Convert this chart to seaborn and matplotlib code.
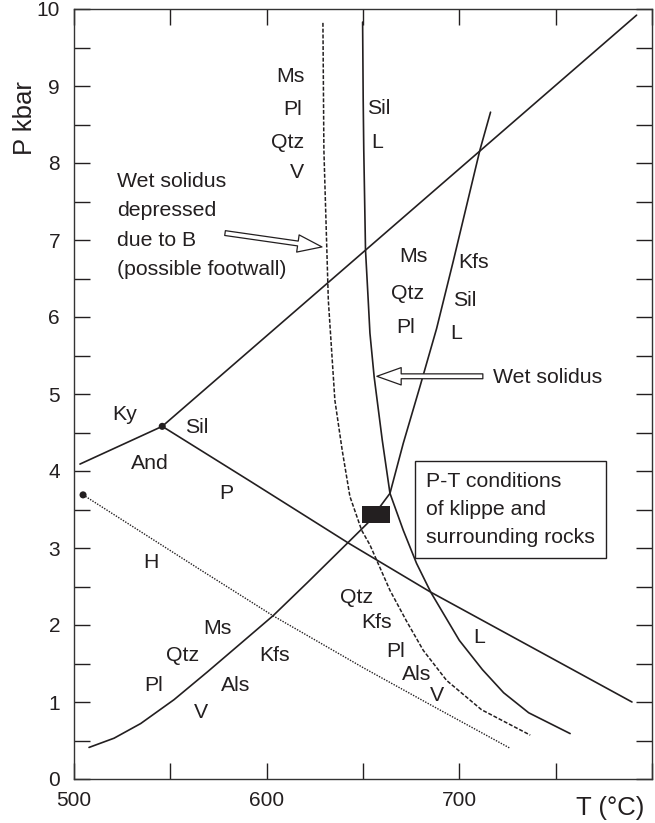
import matplotlib
matplotlib.use("Agg")
import matplotlib.pyplot as plt
import seaborn as sns
import pandas as pd

# ---------------- data (T in °C, P in kbar) ----------------
ky_sil_T = [545.8, 792.0]
ky_sil_P = [4.58, 9.92]

ky_and_T = [503.1, 545.8]
ky_and_P = [4.09, 4.58]

and_sil_T = [545.8, 591.3, 642.7, 684.9, 789.6]
and_sil_P = [4.58, 3.87, 3.06, 2.43, 1.00]

ms_T = [507.8, 520.8, 534.6, 551.9, 569.2, 586.5, 603.3, 621.1, 641.8,
        652.7, 664.0, 670.9, 679.6, 688.2, 696.8, 710.7, 716.2]
ms_P = [0.41, 0.53, 0.72, 1.03, 1.39, 1.76, 2.12, 2.55, 3.06,
        3.33, 3.71, 4.36, 5.10, 5.85, 6.72, 8.17, 8.66]

wet_T = [649.8, 650.1, 650.4, 651.3, 652.7, 653.6, 655.8, 660.0, 664.0,
         670.9, 677.8, 685.3, 700.0, 712.0, 723.0, 736.0, 757.5]
wet_P = [9.83, 8.82, 8.17, 6.87, 6.22, 5.79, 5.22, 4.40, 3.71,
         3.23, 2.80, 2.42, 1.80, 1.42, 1.12, 0.86, 0.59]

boron_T = [629.2, 629.7, 632.0, 635.4, 639.2, 643.2, 649.3, 653.6, 664.0,
           672.6, 681.3, 693.4, 711.5, 736.8]
boron_P = [9.82, 8.17, 6.22, 4.92, 4.27, 3.67, 3.23, 3.04, 2.45,
           2.05, 1.67, 1.28, 0.90, 0.57]

h_T = [504.7, 565.4, 603.3, 650.5, 688.2, 726.3]
h_P = [3.69, 2.72, 2.12, 1.44, 0.92, 0.40]

dot_T = [545.8, 504.7]
dot_P = [4.58, 3.69]

klippe_T = [649.6, 663.8]
klippe_P = [3.33, 3.55]

labels = [
    ("Ms", 612.1, 9.12), ("Pl", 613.6, 8.69), ("Qtz", 611.1, 8.27), ("V", 615.7, 7.88),
    ("Sil", 658.3, 8.71), ("L", 657.2, 8.26),
    ("Ms", 676.4, 6.78), ("Qtz", 673.3, 6.31), ("Pl", 672.3, 5.86),
    ("Kfs", 707.6, 6.71), ("Sil", 702.9, 6.22), ("L", 698.2, 5.79),
    ("Ky", 526.5, 4.74), ("Sil", 563.8, 4.57), ("And", 539.4, 4.10), ("P", 578.9, 3.71),
    ("H", 540.0, 2.81),
    ("Ms", 574.7, 1.96), ("Qtz", 556.6, 1.60), ("Pl", 541.5, 1.22),
    ("Kfs", 604.3, 1.60), ("Als", 584.1, 1.21), ("V", 565.9, 0.86),
    ("Qtz", 646.9, 2.36), ("Kfs", 657.2, 2.03), ("Pl", 667.1, 1.66),
    ("Als", 678.0, 1.36), ("V", 688.4, 1.09),
    ("L", 710.2, 1.84),
]

note_boron = "Wet solidus\ndepressed\ndue to B\n(possible footwall)"
note_boron_pos = (522.3, 7.19)
arrow_boron = ((578.4, 7.09), (628.7, 6.91))   # tail, tip

note_wet = "Wet solidus"
note_wet_pos = (717.4, 5.21)
arrow_wet = ((712.2, 5.23), (657.2, 5.23))

box_text = "P-T conditions\nof klippe and\nsurrounding rocks"
box_pos = (682.7, 3.50)

x_ticks = [500, 550, 600, 650, 700, 750, 800]
x_ticklabels = ["500", "", "600", "", "700", "", ""]
y_ticks = [i * 0.5 for i in range(21)]
y_ticklabels = [str(int(v)) if v == int(v) else "" for v in y_ticks]

# ---------------- style ----------------
sns.set_theme(style="ticks")
plt.rcParams["font.family"] = ["Liberation Sans", "DejaVu Sans"]
INK = "#231f20"
plt.rcParams["text.color"] = INK

fig = plt.figure(figsize=(6.55, 8.23), dpi=100)
ax = fig.add_axes([74 / 655, 44 / 823, 578 / 655, 770 / 823])

lw = 1.2
def curve(T, P, **kw):
    df = pd.DataFrame({"T": T, "P": P})
    sns.lineplot(data=df, x="T", y="P", ax=ax, sort=False, estimator=None,
                 color=INK, **kw)

curve(ky_sil_T, ky_sil_P, linewidth=lw)
curve(ky_and_T, ky_and_P, linewidth=lw)
curve(and_sil_T, and_sil_P, linewidth=lw)
curve(ms_T, ms_P, linewidth=lw)
curve(wet_T, wet_P, linewidth=lw)
curve(boron_T, boron_P, linewidth=1.1, linestyle=(0, (2.6, 1.2)))
curve(h_T, h_P, linewidth=1.0, linestyle=(0, (1.0, 1.0)))

sns.scatterplot(x=dot_T, y=dot_P, ax=ax, color=INK, s=26, edgecolor="none",
                zorder=5)

ax.fill_between(klippe_T, klippe_P[0], klippe_P[1], color=INK, linewidth=0,
                zorder=6)

fs = 15.3
for txt, t, p in labels:
    ax.text(t, p, txt, ha="center", va="center", fontsize=fs, color=INK)

ax.text(note_boron_pos[0], note_boron_pos[1], note_boron, ha="left",
        va="center", fontsize=fs, linespacing=1.7, color=INK)
ax.text(note_wet_pos[0], note_wet_pos[1], note_wet, ha="left", va="center",
        fontsize=fs, color=INK)
ax.text(box_pos[0], box_pos[1], box_text, ha="left", va="center", fontsize=fs,
        linespacing=1.63, color=INK,
        bbox=dict(boxstyle="square,pad=0.5", fc="white", ec=INK, lw=1.0))

arrow_style = "simple,head_length=1.75,head_width=1.25,tail_width=0.35"
for tail, tip in (arrow_boron, arrow_wet):
    ax.annotate("", xy=tip, xytext=tail,
                arrowprops=dict(arrowstyle=arrow_style, fc="white", ec=INK,
                                lw=0.9, shrinkA=0, shrinkB=0,
                                mutation_scale=10))

ax.set_xlim(500, 800)
ax.set_ylim(0, 10)
ax.set_xticks(x_ticks)
ax.set_xticklabels(x_ticklabels)
ax.set_yticks(y_ticks)
ax.set_yticklabels(y_ticklabels)
ax.tick_params(direction="in", length=11.5, width=1.0, color=INK,
               labelsize=15, labelcolor=INK, top=True, right=True,
               pad=10)
ax.tick_params(axis="x", pad=9)
for s in ax.spines.values():
    s.set_visible(True)
    s.set_linewidth(1.0)
    s.set_color("#333333")

ax.set_xlabel("T (°C)", fontsize=18.5, color=INK)
ax.set_ylabel("P kbar", fontsize=18.5, color=INK)
ax.xaxis.label.set_va("center")
ax.yaxis.label.set_va("center")
ax.xaxis.set_label_coords(0.927, -0.0377)
ax.yaxis.set_label_coords(-0.085, 0.859)

fig.savefig("out.png", dpi=100)
